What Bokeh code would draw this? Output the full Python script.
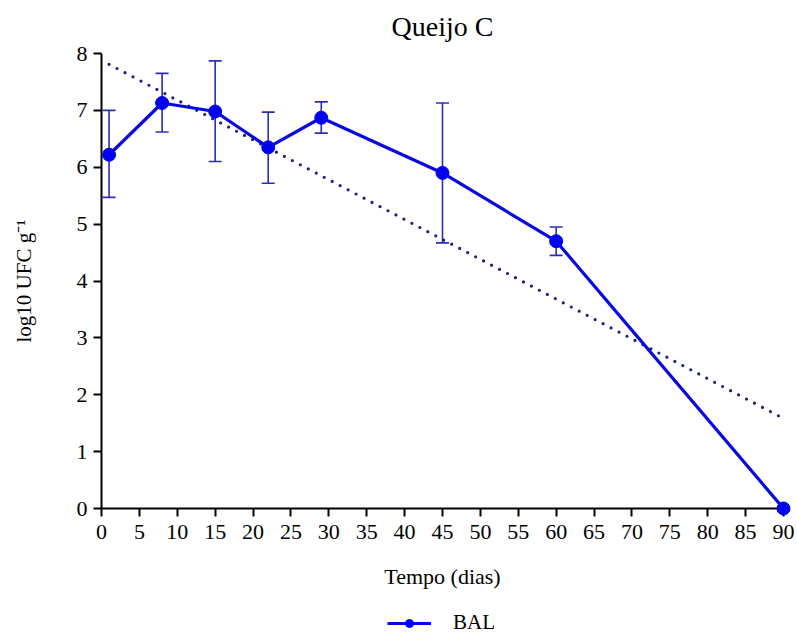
import numpy as np
from bokeh.plotting import figure
from bokeh.layouts import column
from bokeh.models import (ColumnDataSource, Range1d, Whisker, TeeHead, Legend,
                          LegendItem, FixedTicker)
from bokeh.embed import file_html
from bokeh.resources import INLINE

# ---- data ----
dias = [1, 8, 15, 22, 29, 45, 60, 90]
bal = [6.22, 7.13, 6.98, 6.35, 6.87, 5.90, 4.70, 0.0]
bal_upper = [7.00, 7.65, 7.87, 6.97, 7.15, 7.13, 4.95, 0.0]
bal_lower = [5.47, 6.62, 6.10, 5.72, 6.60, 4.67, 4.45, 0.0]
x_ticks = list(range(0, 95, 5))
y_ticks = list(range(0, 9))
series_name = "BAL"

# linear trend of the series
slope, intercept = np.polyfit(dias, bal, 1)
trend_x = [dias[0], dias[-1]]
trend_y = [intercept + slope * x for x in trend_x]

SERIF = "Liberation Serif"
LINE_BLUE = "#0808e0"
PT_BLUE = "#0000f0"
ERR_BLUE = "#2c2cb4"
TREND = "#1c1c8a"

src = ColumnDataSource(dict(x=dias, y=bal))
err_idx = [i for i in range(len(dias)) if bal_upper[i] != bal_lower[i]]
err_src = ColumnDataSource(dict(
    x=[dias[i] for i in err_idx],
    upper=[bal_upper[i] for i in err_idx],
    lower=[bal_lower[i] for i in err_idx],
))

p = figure(width=797, height=600, x_range=Range1d(0, 90), y_range=Range1d(0, 8),
           output_backend="svg", toolbar_location=None,
           min_border_left=101, min_border_right=14,
           min_border_top=53, min_border_bottom=92)
p.outline_line_color = None
p.xgrid.visible = False
p.ygrid.visible = False

p.title.text = "Queijo C"
p.title.align = "center"
p.title.vertical_align = "top"
p.title.text_font = SERIF
p.title.text_font_size = "28px"
p.title.text_font_style = "normal"
p.title.text_color = "black"
p.title.standoff = 19

for ax in (p.xaxis[0], p.yaxis[0]):
    ax.axis_line_width = 2
    ax.axis_line_color = "black"
    ax.major_tick_line_width = 2
    ax.major_tick_line_color = "black"
    ax.major_tick_out = 8
    ax.major_tick_in = 0
    ax.minor_tick_out = 0
    ax.minor_tick_in = 0
    ax.major_label_text_font = SERIF
    ax.major_label_text_font_size = "22px"
    ax.major_label_text_color = "black"
    ax.axis_label_text_font = SERIF
    ax.axis_label_text_font_style = "normal"
    ax.axis_label_text_color = "black"

p.xaxis.axis_label_text_font_size = "22px"
p.yaxis.axis_label_text_font_size = "21px"
p.xaxis.ticker = FixedTicker(ticks=x_ticks)
p.yaxis.ticker = FixedTicker(ticks=y_ticks)
p.xaxis.axis_label = "Tempo (dias)"
p.yaxis.axis_label = "log10 UFC g\u207b\u00b9"
p.xaxis.major_label_standoff = 8
p.yaxis.major_label_standoff = 6
p.xaxis.axis_label_standoff = 22
p.yaxis.axis_label_standoff = 38

# trend line (dotted)
p.line(trend_x, trend_y, line_color=TREND, line_width=3.2, line_dash="0 9",
       line_cap="round")

# error bars
p.add_layout(Whisker(source=err_src, base="x", upper="upper", lower="lower",
                     dimension="height", line_color=ERR_BLUE, line_width=1.6,
                     upper_head=TeeHead(size=13, line_color=ERR_BLUE, line_width=1.6),
                     lower_head=TeeHead(size=13, line_color=ERR_BLUE, line_width=1.6)))

# series
p.line("x", "y", source=src, line_color=LINE_BLUE, line_width=3.2, level="overlay")
p.scatter("x", "y", source=src, size=13, fill_color=PT_BLUE,
          line_color=PT_BLUE, level="overlay")

# legend strip below the chart (its key glyphs reuse the series data,
# which lies outside this strip's ranges, so only the legend shows)
lf = figure(width=797, height=36, x_range=Range1d(-2, -1), y_range=Range1d(-2, -1),
            output_backend="svg", toolbar_location=None, min_border=0,
            x_axis_type=None, y_axis_type=None)
lf.outline_line_color = None
lf.xgrid.visible = False
lf.ygrid.visible = False
lk_line = lf.line("x", "y", source=src, line_color=LINE_BLUE, line_width=3.2)
lk_pts = lf.scatter("x", "y", source=src, size=13, fill_color=PT_BLUE,
                    line_color=PT_BLUE)
legend = Legend(items=[LegendItem(label=series_name, renderers=[lk_line, lk_pts])],
                location=(286, 1), orientation="horizontal",
                border_line_alpha=0, background_fill_alpha=0,
                label_text_font=SERIF, label_text_font_size="21px",
                label_text_color="black",
                glyph_width=44, padding=0, margin=0, label_standoff=22)
lf.add_layout(legend)

layout = column(p, lf, spacing=0)
open("out.html", "w").write(file_html(layout, INLINE))
